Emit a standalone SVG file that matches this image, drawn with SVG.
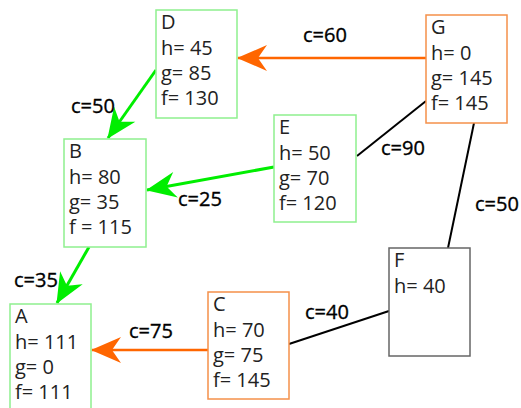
<svg xmlns="http://www.w3.org/2000/svg" width="521" height="408" viewBox="0 0 521 408">
<style>
.box{fill:#fff;stroke-width:1.5}
.g{stroke:#8ef08e}
.o{stroke:#f5904a}
.k{stroke:#666}
.t{font-family:"Open Sans","Liberation Sans",sans-serif;font-size:20px;fill:#222}
.lbl{font-family:"Open Sans","Liberation Sans",sans-serif;font-size:20px;fill:#000;stroke:#000;stroke-width:0.35}
.eg{stroke:#00ee00;stroke-width:3;fill:none;marker-end:url(#ahg)}
.eo{stroke:#ff6600;stroke-width:2.5;fill:none;marker-end:url(#aho)}
.ek{stroke:#000;stroke-width:2;fill:none}
</style>
<defs>
<marker id="ahg" viewBox="-31 -15 33 30" refX="0" refY="0" markerWidth="33" markerHeight="30" markerUnits="userSpaceOnUse" orient="auto">
<path d="M1,0 L-29,-13 Q-22,-3 -20,0 Q-22,3 -29,13 Z" fill="#00ee00"/>
</marker>
<marker id="aho" viewBox="-31 -15 33 30" refX="0" refY="0" markerWidth="33" markerHeight="30" markerUnits="userSpaceOnUse" orient="auto">
<path d="M1,0 L-29,-13 Q-22,-3 -20,0 Q-22,3 -29,13 Z" fill="#ff6600"/>
</marker>
</defs>
<g id="connectors">
<line class="eo" x1="426" y1="58" x2="238" y2="58"/>
<line class="eg" x1="156" y1="70" x2="108" y2="138"/>
<line class="eg" x1="274" y1="167" x2="147" y2="190"/>
<line class="eg" x1="89" y1="247" x2="57" y2="303"/>
<line class="eo" x1="208" y1="350" x2="92" y2="350"/>
<line class="ek" x1="426" y1="101" x2="357" y2="156"/>
<line class="ek" x1="474" y1="123" x2="448" y2="248"/>
<line class="ek" x1="289" y1="344" x2="389" y2="311"/>
<text class="lbl" x="303" y="42">c=60</text>
<text class="lbl" x="71" y="113">c=50</text>
<text class="lbl" x="381" y="155">c=90</text>
<text class="lbl" x="178" y="206">c=25</text>
<text class="lbl" x="475" y="211">c=50</text>
<text class="lbl" x="14" y="287">c=35</text>
<text class="lbl" x="129" y="338">c=75</text>
<text class="lbl" x="305" y="319">c=40</text>
</g>
<g id="D">
<rect class="box g" x="156" y="10" width="81" height="108"/>
<text class="t" x="161" y="29">D</text>
<text class="t" x="161" y="55">h= 45</text>
<text class="t" x="161" y="80">g= 85</text>
<text class="t" x="161" y="105">f= 130</text>
</g>
<g id="G">
<rect class="box o" x="426" y="15" width="81" height="108"/>
<text class="t" x="431" y="34">G</text>
<text class="t" x="431" y="60">h= 0</text>
<text class="t" x="431" y="85">g= 145</text>
<text class="t" x="431" y="110">f= 145</text>
</g>
<g id="E">
<rect class="box g" x="274" y="115" width="82" height="107"/>
<text class="t" x="279" y="134">E</text>
<text class="t" x="279" y="160">h= 50</text>
<text class="t" x="279" y="185">g= 70</text>
<text class="t" x="279" y="210">f= 120</text>
</g>
<g id="B">
<rect class="box g" x="64" y="139" width="82" height="108"/>
<text class="t" x="69" y="158">B</text>
<text class="t" x="69" y="184">h= 80</text>
<text class="t" x="69" y="209">g= 35</text>
<text class="t" x="69" y="234">f = 115</text>
</g>
<g id="F">
<rect class="box k" x="389" y="248" width="81" height="108"/>
<text class="t" x="394" y="267">F</text>
<text class="t" x="394" y="293">h= 40</text>
</g>
<g id="C">
<rect class="box o" x="208" y="292" width="81" height="107"/>
<text class="t" x="213" y="311">C</text>
<text class="t" x="213" y="337">h= 70</text>
<text class="t" x="213" y="362">g= 75</text>
<text class="t" x="213" y="387">f= 145</text>
</g>
<g id="A">
<rect class="box g" x="10" y="304" width="81" height="110"/>
<text class="t" x="15" y="323">A</text>
<text class="t" x="15" y="349">h= 111</text>
<text class="t" x="15" y="374">g= 0</text>
<text class="t" x="15" y="399">f= 111</text>
</g>
</svg>
